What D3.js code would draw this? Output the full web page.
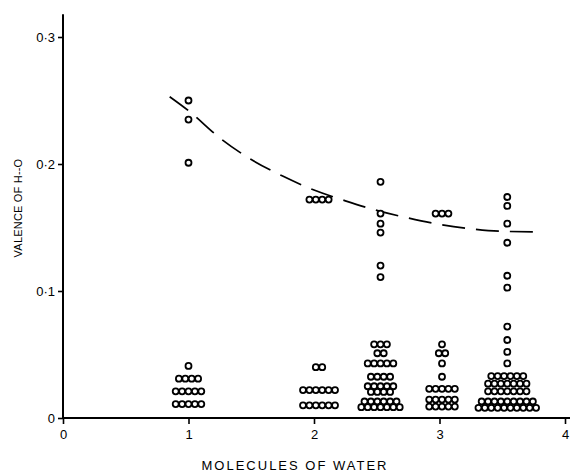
<!DOCTYPE html>
<html>
<head>
<meta charset="utf-8">
<script src="https://cdn.jsdelivr.net/npm/d3@7"></script>
<style>
  html, body { margin: 0; padding: 0; background: #fff; }
  svg { display: block; }
  text { font-family: "Liberation Sans", "DejaVu Sans", sans-serif; fill: #000; }
</style>
</head>
<body>
<svg id="chart" width="570" height="474"></svg>
<script>
// ---- data ----
const xTickValues = [0, 1, 2, 3, 4];
const xTickLabels = ["0", "1", "2", "3", "4"];
const yTickValues = [0, 0.1, 0.2, 0.3];
const yTickLabels = ["0", "0\u00B71", "0\u00B72", "0\u00B73"];
const xTitle = "MOLECULES OF WATER";
const yTitle = "VALENCE OF H--O";

// x position of each column of points (molecules of water)
const groupX = [1.0, 2.04, 2.53, 3.02, 3.54];

// valences of H--O for each column (equal values stack side by side)
const group1 = [0.250, 0.235, 0.201,
  0.041,
  0.031, 0.031, 0.031, 0.031,
  0.021, 0.021, 0.021, 0.021, 0.021,
  0.011, 0.011, 0.011, 0.011, 0.011];
const group2 = [0.172, 0.172, 0.172, 0.172,
  0.040, 0.040,
  0.022, 0.022, 0.022, 0.022, 0.022, 0.022,
  0.010, 0.010, 0.010, 0.010, 0.010, 0.010];
const group3 = [0.186, 0.161, 0.153, 0.146, 0.120, 0.111,
  0.058, 0.058, 0.058,
  0.051, 0.051,
  0.043, 0.043, 0.043, 0.043, 0.043,
  0.0325, 0.0325, 0.0325, 0.0325,
  0.025, 0.025, 0.025, 0.025, 0.025,
  0.0205, 0.0205, 0.0205, 0.0205,
  0.013, 0.013, 0.013, 0.013, 0.013, 0.013,
  0.0085, 0.0085, 0.0085, 0.0085, 0.0085, 0.0085, 0.0085];
const group4 = [0.161, 0.161, 0.161,
  0.058,
  0.051, 0.051,
  0.043,
  0.0325,
  0.023, 0.023, 0.023, 0.023, 0.023,
  0.0145, 0.0145, 0.0145, 0.0145, 0.0145,
  0.009, 0.009, 0.009, 0.009, 0.009];
const group5 = [0.174, 0.167, 0.153, 0.138, 0.112, 0.1026, 0.072, 0.0614, 0.052, 0.043,
  0.033, 0.033, 0.033, 0.033, 0.033, 0.033,
  0.027, 0.027, 0.027, 0.027, 0.027, 0.027, 0.027,
  0.021, 0.021, 0.021, 0.021, 0.021, 0.021, 0.021,
  0.013, 0.013, 0.013, 0.013, 0.013, 0.013, 0.013, 0.013, 0.013,
  0.008, 0.008, 0.008, 0.008, 0.008, 0.008, 0.008, 0.008, 0.008, 0.008];
const groups = [group1, group2, group3, group4, group5];

// dashed trend curve
const curveX = [0.85, 1.0, 1.25, 1.5, 1.75, 2.0, 2.25, 2.5, 2.75, 3.0, 3.25, 3.5, 3.82];
const curveY = [0.253, 0.242, 0.2205, 0.2035, 0.1905, 0.1795, 0.171, 0.1635, 0.1575, 0.1525, 0.149, 0.147, 0.1465];

// ---- drawing ----
const svg = d3.select("#chart");
const x = d3.scaleLinear().domain([0, 4]).range([63, 565]);
const y = d3.scaleLinear().domain([0, 0.3]).range([418, 37]);

// axes lines
svg.append("line")
  .attr("x1", x(0)).attr("x2", 570)
  .attr("y1", y(0)).attr("y2", y(0))
  .attr("stroke", "#000").attr("stroke-width", 2);
svg.append("line")
  .attr("x1", x(0)).attr("x2", x(0))
  .attr("y1", y(0)).attr("y2", y(0.318))
  .attr("stroke", "#000").attr("stroke-width", 2);

// x ticks
const xAxis = d3.axisBottom(x).tickValues(xTickValues)
  .tickFormat((d, i) => xTickLabels[i]).tickSize(6).tickPadding(6);
const gx = svg.append("g").attr("transform", `translate(0,${y(0)})`).call(xAxis);
gx.select(".domain").remove();
gx.selectAll(".tick line").attr("stroke", "#000").attr("stroke-width", 1.6);
gx.selectAll(".tick text").attr("font-size", 13).attr("fill", "#000")
  .style("font-family", '"Liberation Sans", "DejaVu Sans", sans-serif');

// y ticks
const yAxis = d3.axisLeft(y).tickValues(yTickValues)
  .tickFormat((d, i) => yTickLabels[i]).tickSize(5).tickPadding(3);
const gy = svg.append("g").attr("transform", `translate(${x(0)},0)`).call(yAxis);
gy.select(".domain").remove();
gy.selectAll(".tick line").attr("stroke", "#000").attr("stroke-width", 1.6);
gy.selectAll(".tick text").attr("font-size", 13).attr("fill", "#000")
  .style("font-family", '"Liberation Sans", "DejaVu Sans", sans-serif');

// titles
svg.append("text")
  .attr("x", 295).attr("y", 470)
  .attr("text-anchor", "middle")
  .attr("font-size", 13)
  .attr("letter-spacing", 2)
  .text(xTitle);
svg.append("text")
  .attr("transform", "translate(22,208) rotate(-90)")
  .attr("text-anchor", "middle")
  .attr("font-size", 11)
  .attr("letter-spacing", 0.2)
  .text(yTitle);

// dashed curve
const line = d3.line()
  .x((d, i) => x(curveX[i]))
  .y(d => y(d))
  .curve(d3.curveMonotoneX);
svg.append("path")
  .attr("d", line(curveY))
  .attr("fill", "none")
  .attr("stroke", "#000")
  .attr("stroke-width", 1.7)
  .attr("stroke-dasharray", "23,11");

// points: equal values stack horizontally, centred on the column
const spacing = 6.4;
groups.forEach((vals, gi) => {
  const rows = d3.group(vals, v => v);
  const pts = [];
  rows.forEach((arr, v) => {
    const n = arr.length;
    arr.forEach((_, k) => pts.push({ v, off: (k - (n - 1) / 2) * spacing }));
  });
  svg.append("g").selectAll("circle")
    .data(pts).join("circle")
    .attr("cx", d => x(groupX[gi]) + d.off)
    .attr("cy", d => y(d.v))
    .attr("r", 3)
    .attr("fill", "#fff")
    .attr("stroke", "#000")
    .attr("stroke-width", 1.8);
});
</script>
</body>
</html>
